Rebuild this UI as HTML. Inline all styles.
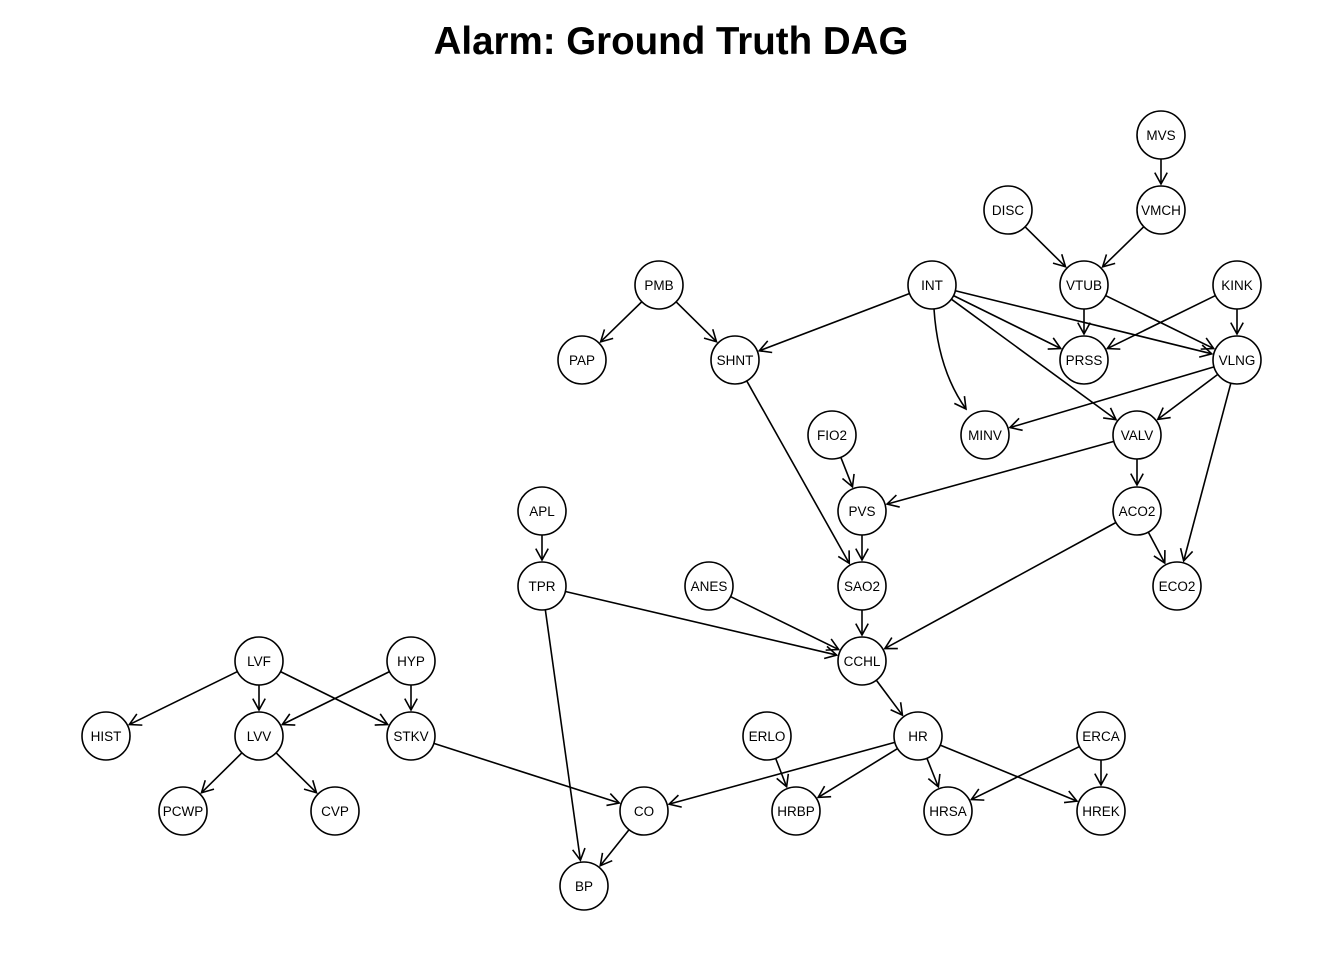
<!DOCTYPE html>
<html><head><meta charset="utf-8"><style>
html,body{margin:0;padding:0;background:#fff;}
svg{display:block;}
text{font-family:"Liberation Sans",sans-serif;}
</style></head><body>
<svg id="s" width="1344" height="960" viewBox="0 0 1344 960" xmlns="http://www.w3.org/2000/svg">
<text x="671" y="54" text-anchor="middle" font-size="38.5" font-weight="bold">Alarm: Ground Truth DAG</text>
<g id="edges" stroke="#000" stroke-width="1.6" fill="none"></g>
<g id="nodes" stroke="#000" stroke-width="1.6" fill="#fff">
<circle cx="1161" cy="135" r="24"/><circle cx="1008" cy="210" r="24"/><circle cx="1161" cy="210" r="24"/>
<circle cx="659" cy="285" r="24"/><circle cx="932" cy="285" r="24"/><circle cx="1084" cy="285" r="24"/><circle cx="1237" cy="285" r="24"/>
<circle cx="582" cy="360" r="24"/><circle cx="735" cy="360" r="24"/><circle cx="1084" cy="360" r="24"/><circle cx="1237" cy="360" r="24"/>
<circle cx="832" cy="435" r="24"/><circle cx="985" cy="435" r="24"/><circle cx="1137" cy="435" r="24"/>
<circle cx="542" cy="511" r="24"/><circle cx="862" cy="511" r="24"/><circle cx="1137" cy="511" r="24"/>
<circle cx="542" cy="586" r="24"/><circle cx="709" cy="586" r="24"/><circle cx="862" cy="586" r="24"/><circle cx="1177" cy="586" r="24"/>
<circle cx="259" cy="661" r="24"/><circle cx="411" cy="661" r="24"/><circle cx="862" cy="661" r="24"/>
<circle cx="106" cy="736" r="24"/><circle cx="259" cy="736" r="24"/><circle cx="411" cy="736" r="24"/><circle cx="767" cy="736" r="24"/><circle cx="918" cy="736" r="24"/><circle cx="1101" cy="736" r="24"/>
<circle cx="183" cy="811" r="24"/><circle cx="335" cy="811" r="24"/><circle cx="644" cy="811" r="24"/><circle cx="796" cy="811" r="24"/><circle cx="948" cy="811" r="24"/><circle cx="1101" cy="811" r="24"/>
<circle cx="584" cy="886" r="24"/>
</g>
<g font-size="13.5" text-anchor="middle" fill="#000">
<text x="1161" y="140">MVS</text><text x="1008" y="215">DISC</text><text x="1161" y="215">VMCH</text>
<text x="659" y="290">PMB</text><text x="932" y="290">INT</text><text x="1084" y="290">VTUB</text><text x="1237" y="290">KINK</text>
<text x="582" y="365">PAP</text><text x="735" y="365">SHNT</text><text x="1084" y="365">PRSS</text><text x="1237" y="365">VLNG</text>
<text x="832" y="440">FIO2</text><text x="985" y="440">MINV</text><text x="1137" y="440">VALV</text>
<text x="542" y="516">APL</text><text x="862" y="516">PVS</text><text x="1137" y="516">ACO2</text>
<text x="542" y="591">TPR</text><text x="709" y="591">ANES</text><text x="862" y="591">SAO2</text><text x="1177" y="591">ECO2</text>
<text x="259" y="666">LVF</text><text x="411" y="666">HYP</text><text x="862" y="666">CCHL</text>
<text x="106" y="741">HIST</text><text x="259" y="741">LVV</text><text x="411" y="741">STKV</text><text x="767" y="741">ERLO</text><text x="918" y="741">HR</text><text x="1101" y="741">ERCA</text>
<text x="183" y="816">PCWP</text><text x="335" y="816">CVP</text><text x="644" y="816">CO</text><text x="796" y="816">HRBP</text><text x="948" y="816">HRSA</text><text x="1101" y="816">HREK</text>
<text x="584" y="891">BP</text>
</g>
</svg>
<script>
var P={MVS:[1161,135],DISC:[1008,210],VMCH:[1161,210],PMB:[659,285],INT:[932,285],VTUB:[1084,285],KINK:[1237,285],PAP:[582,360],SHNT:[735,360],PRSS:[1084,360],VLNG:[1237,360],FIO2:[832,435],MINV:[985,435],VALV:[1137,435],APL:[542,511],PVS:[862,511],ACO2:[1137,511],TPR:[542,586],ANES:[709,586],SAO2:[862,586],ECO2:[1177,586],LVF:[259,661],HYP:[411,661],CCHL:[862,661],HIST:[106,736],LVV:[259,736],STKV:[411,736],ERLO:[767,736],HR:[918,736],ERCA:[1101,736],PCWP:[183,811],CVP:[335,811],CO:[644,811],HRBP:[796,811],HRSA:[948,811],HREK:[1101,811],BP:[584,886]};
var E="MVS-VMCH DISC-VTUB VMCH-VTUB PMB-PAP PMB-SHNT INT-SHNT INT-PRSS INT-VLNG INT-VALV VTUB-PRSS VTUB-VLNG KINK-PRSS KINK-VLNG VLNG-MINV VLNG-VALV VLNG-ECO2 SHNT-SAO2 FIO2-PVS VALV-PVS VALV-ACO2 ACO2-ECO2 ACO2-CCHL PVS-SAO2 APL-TPR TPR-CCHL TPR-BP ANES-CCHL SAO2-CCHL CCHL-HR LVF-HIST LVF-LVV LVF-STKV HYP-LVV HYP-STKV LVV-PCWP LVV-CVP STKV-CO HR-CO HR-HRBP HR-HRSA HR-HREK ERLO-HRBP ERCA-HRSA ERCA-HREK CO-BP".split(" ");
var g=document.getElementById("edges"),h="";
function head(x2,y2,ux,uy){var al=13,c=Math.cos(0.5),s=Math.sin(0.5);
return '<polyline points="'+(x2-al*(ux*c-uy*s))+','+(y2-al*(uy*c+ux*s))+' '+x2+','+y2+' '+(x2-al*(ux*c+uy*s))+','+(y2-al*(uy*c-ux*s))+'"/>';}
E.forEach(function(e){var a=P[e.split("-")[0]],b=P[e.split("-")[1]];var dx=b[0]-a[0],dy=b[1]-a[1],L=Math.sqrt(dx*dx+dy*dy),ux=dx/L,uy=dy/L;
var x1=a[0]+ux*24,y1=a[1]+uy*24,x2=b[0]-ux*26,y2=b[1]-uy*26;
h+='<line x1="'+x1+'" y1="'+y1+'" x2="'+x2+'" y2="'+y2+'"/>'+head(x2,y2,ux,uy);});
// curved INT->MINV
h+='<path d="M934,309 Q938,370 966,409"/>'+head(966,409,0.58,0.81);
g.innerHTML=h;
</script>
</body></html>
